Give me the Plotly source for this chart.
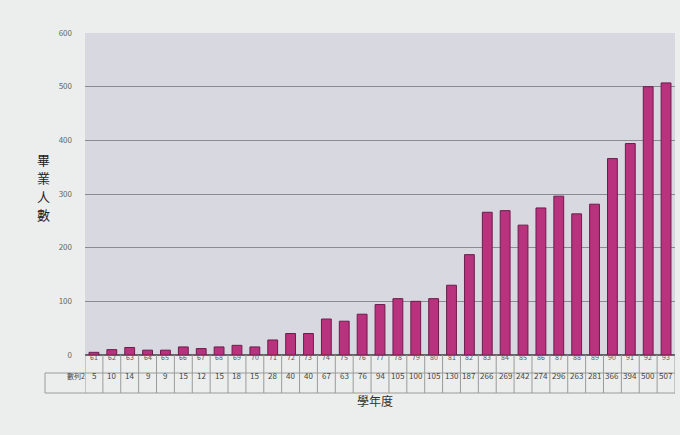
import plotly.graph_objects as go

years = ["61","62","63","64","65","66","67","68","69","70","71","72","73","74","75","76","77",
         "78","79","80","81","82","83","84","85","86","87","88","89","90","91","92","93"]
graduates = [5,10,14,9,9,15,12,15,18,15,28,40,40,67,63,76,94,105,100,105,130,187,266,269,242,
             274,296,263,281,366,394,500,507]
series_name = "數列2"
y_title = "畢業人數"
x_title = "學年度"

font_fam = "Noto Sans CJK TC, Noto Sans, sans-serif"
fig = go.Figure()
fig.add_trace(go.Bar(
    x=list(range(len(years))), y=graduates, width=0.55,
    marker=dict(color="#b8327e", line=dict(color="#6e1c4c", width=1)),
))

# plot area geometry
L, R, T, B = 85, 5, 33, 80
H = 435 - T - B
def py(pix):
    return (435 - B - pix) / H
def px(pix):
    return (pix - L) / (680 - L - R)

shapes = []
line_c = "#9a9a9a"
shapes.append(dict(type="line", xref="paper", yref="paper", x0=0, x1=1, y0=py(373), y1=py(373), line=dict(color=line_c, width=1)))
shapes.append(dict(type="line", xref="paper", yref="paper", x0=px(45), x1=1, y0=py(393), y1=py(393), line=dict(color=line_c, width=1)))
shapes.append(dict(type="line", xref="paper", yref="paper", x0=px(45), x1=0, y0=py(373), y1=py(373), line=dict(color=line_c, width=1)))
shapes.append(dict(type="line", xref="paper", yref="paper", x0=px(45), x1=px(45), y0=py(373), y1=py(393), line=dict(color=line_c, width=1)))
for i in range(len(years) + 1):
    shapes.append(dict(type="line", xref="x", yref="paper", x0=i - 0.5, x1=i - 0.5,
                       y0=0, y1=py(393), line=dict(color=line_c, width=1)))

annotations = []
for i, (yr, v) in enumerate(zip(years, graduates)):
    annotations.append(dict(x=i, xref="x", y=py(364), yref="paper", text=yr, showarrow=False,
                            font=dict(size=7, color="#555555", family=font_fam)))
    annotations.append(dict(x=i, xref="x", y=py(383), yref="paper", text=str(v), showarrow=False,
                            font=dict(size=8, color="#444444", family=font_fam)))
annotations.append(dict(x=px(65), xref="paper", y=py(383), yref="paper", text=series_name, showarrow=False,
                        font=dict(size=7, color="#444444", family=font_fam)))
for k, ch in enumerate(y_title):
    annotations.append(dict(x=px(35), xref="paper", y=py(159 + 18.5 * k), yref="paper", text=ch,
                            showarrow=False, font=dict(size=13, color="#222222", family=font_fam)))
annotations.append(dict(x=px(375), xref="paper", y=py(411), yref="paper", text=x_title, showarrow=False,
                        font=dict(size=12, color="#333333", family=font_fam)))

fig.update_layout(
    width=680, height=435,
    margin=dict(l=L, r=R, t=T, b=B),
    paper_bgcolor="#eceeed",
    plot_bgcolor="#d8d8e0",
    showlegend=False,
    shapes=shapes,
    annotations=annotations,
    xaxis=dict(showticklabels=False, showgrid=False, zeroline=False,
               showline=False, range=[-0.5, len(years) - 0.5], automargin=False),
    yaxis=dict(range=[0, 600], dtick=100, tickfont=dict(size=8, color="#666", family=font_fam),
               gridcolor="#8a8a92", gridwidth=1, zeroline=True, zerolinecolor="#666",
               showline=False, ticks="", ticklabelstandoff=12, automargin=False),
)
fig.write_html("out.html", config={"displayModeBar": False},
               post_script="document.body.style.margin='0';")
